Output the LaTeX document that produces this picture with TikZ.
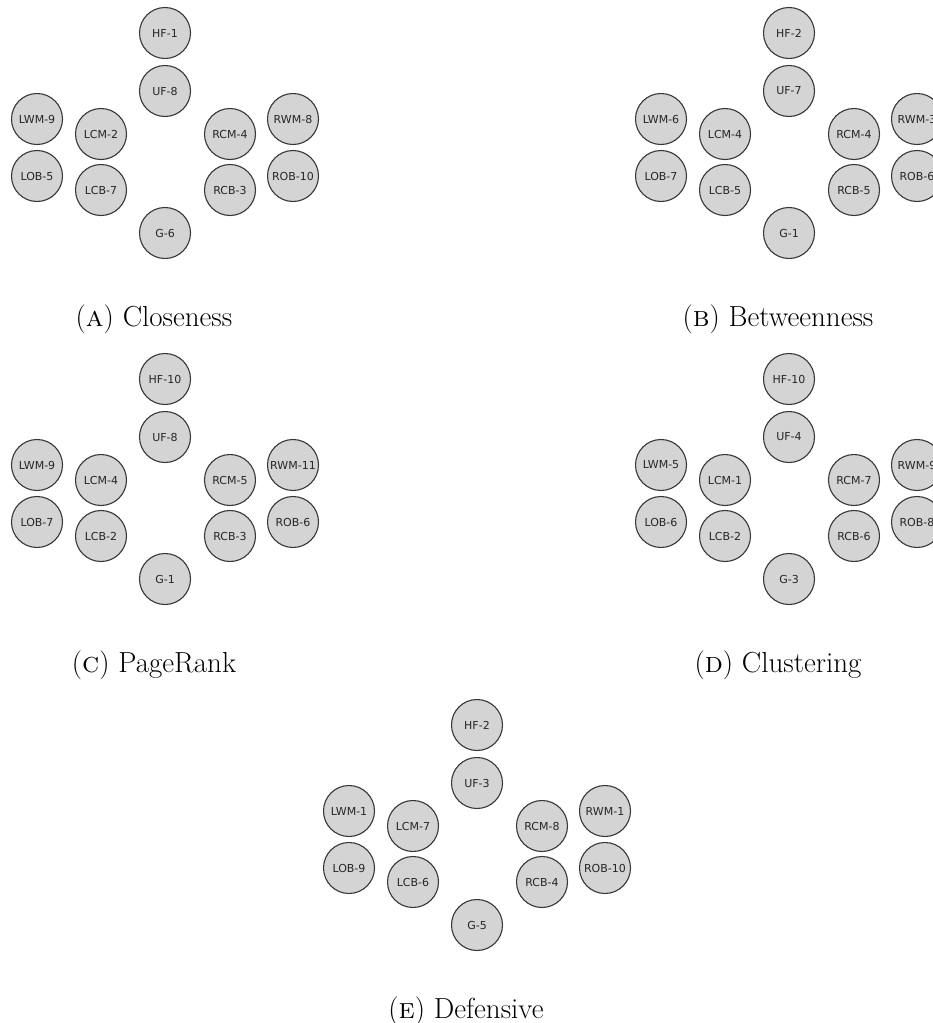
\documentclass[tikz,border=0pt]{standalone}
\usepackage{fontspec}
\newfontfamily\nodefont{DejaVu Sans}
\begin{document}
\begin{tikzpicture}[x=1pt,y=-1pt,
  player/.style={circle,draw=black!78,line width=1.1pt,fill=black!17,
    minimum size=51pt,inner sep=0pt,font=\nodefont\fontsize{11}{12}\selectfont,text=black!85},
  captext/.style={font=\fontsize{29}{32}\selectfont,anchor=center,inner sep=0pt}]
\useasboundingbox (0,0) rectangle (933,1023);
\def\pHF{(0,0)}\def\pUF{(0,58)}
\def\pLWM{(-128,86)}\def\pLOB{(-128,143)}
\def\pLCM{(-64,101)}\def\pLCB{(-64,157)}
\def\pRCM{(65,101)}\def\pRCB{(65,157)}
\def\pRWM{(128,86)}\def\pROB{(128,143)}
\def\pG{(0,200)}
\newcommand\drawpanel[4]{%
  \begin{scope}[shift={#2}]
    \foreach \n/\v in {#3}{%
      \node[player] (#1-\n) at \csname p\n\endcsname {\n-\v};
    }
    \node[captext] (#1-cap) at (-11,286) {#4};
  \end{scope}}
\drawpanel{a}{(165,33)}{HF/1,UF/8,LWM/9,LOB/5,LCM/2,LCB/7,RCM/4,RCB/3,RWM/8,ROB/10,G/6}{(\textsc{a}) Closeness}
\drawpanel{b}{(789,33)}{HF/2,UF/7,LWM/6,LOB/7,LCM/4,LCB/5,RCM/4,RCB/5,RWM/3,ROB/6,G/1}{(\textsc{b}) Betweenness}
\drawpanel{c}{(165,379)}{HF/10,UF/8,LWM/9,LOB/7,LCM/4,LCB/2,RCM/5,RCB/3,RWM/11,ROB/6,G/1}{(\textsc{c}) PageRank}
\drawpanel{d}{(789,379)}{HF/10,UF/4,LWM/5,LOB/6,LCM/1,LCB/2,RCM/7,RCB/6,RWM/9,ROB/8,G/3}{(\textsc{d}) Clustering}
\drawpanel{e}{(477,725)}{HF/2,UF/3,LWM/1,LOB/9,LCM/7,LCB/6,RCM/8,RCB/4,RWM/1,ROB/10,G/5}{(\textsc{e}) Defensive}
\end{tikzpicture}
\end{document}
